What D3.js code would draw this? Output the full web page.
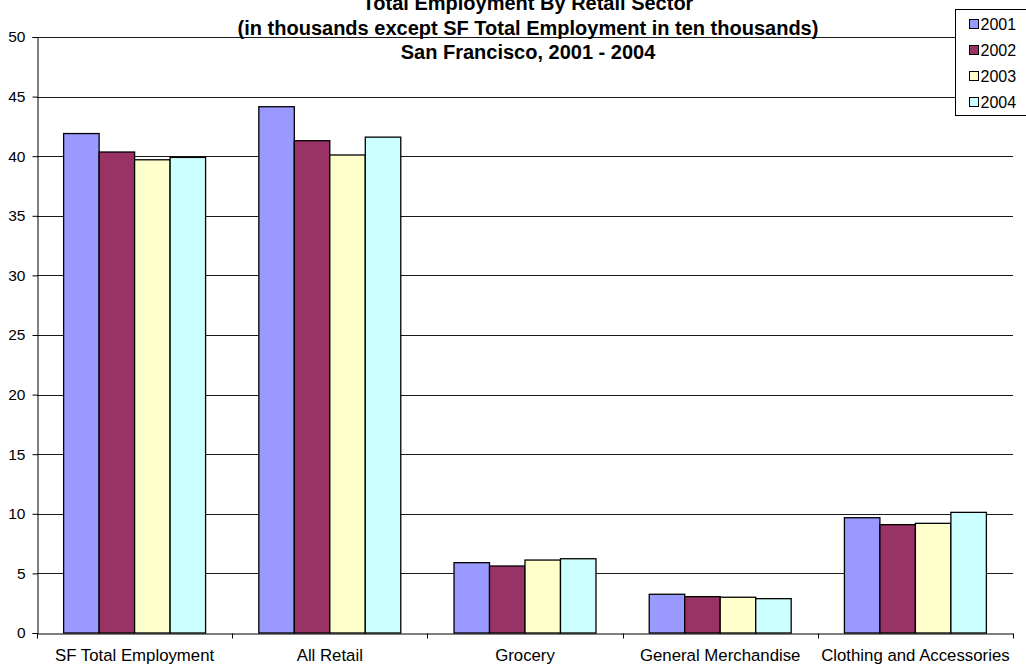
<!DOCTYPE html>
<html>
<head>
<meta charset="utf-8">
<script src="https://cdn.jsdelivr.net/npm/d3@7"></script>
<style>
  body { margin: 0; background: #fff; }
  svg { display: block; font-family: "Liberation Sans", Arial, sans-serif; }
</style>
</head>
<body>
<div class="chart"></div>
<script>
// chart data
var categories = ["SF Total Employment", "All Retail", "Grocery", "General Merchandise", "Clothing and Accessories"];
var years = ["2001", "2002", "2003", "2004"];
var values2001 = [41.9, 44.15, 5.9, 3.25, 9.67];
var values2002 = [40.35, 41.3, 5.62, 3.05, 9.09];
var values2003 = [39.7, 40.1, 6.12, 3.0, 9.2];
var values2004 = [39.9, 41.6, 6.23, 2.88, 10.12];
var yTicks = [0, 5, 10, 15, 20, 25, 30, 35, 40, 45, 50];
var colors = ["#9999FF", "#993366", "#FFFFCC", "#CCFFFF"];
var titleLines = [
  "Total Employment By Retail Sector",
  "(in thousands except SF Total Employment in ten thousands)",
  "San Francisco, 2001 - 2004"
];

var seriesValues = [values2001, values2002, values2003, values2004];

// setup svg dimensions
var svgWidth = 1026;
var svgHeight = 668;

var margin = { top: 37, right: 13, bottom: 35, left: 37 };
var chartWidth = svgWidth - margin.left - margin.right;
var chartHeight = svgHeight - margin.top - margin.bottom;

var svg = d3.select(".chart")
  .append("svg")
  .attr("width", svgWidth)
  .attr("height", svgHeight);

var chartGroup = svg.append("g")
  .attr("transform", `translate(${margin.left}, ${margin.top})`);

// scales
var xScale = d3.scaleBand()
  .domain(categories)
  .range([0, chartWidth])
  .padding(0);

// excel style gap width of 150%
var barWidth = xScale.bandwidth() / 5.5;
var gap = xScale.bandwidth() - barWidth * 4;

var xInner = d3.scaleBand()
  .domain(years)
  .range([gap / 2, xScale.bandwidth() - gap / 2])
  .padding(0);

var yScale = d3.scaleLinear()
  .domain([0, 50])
  .range([chartHeight, 0]);

// gridlines
chartGroup.append("g")
  .selectAll("line")
  .data(yTicks.filter(d => d > 0))
  .enter()
  .append("line")
  .attr("x1", 0)
  .attr("x2", chartWidth)
  .attr("y1", d => Math.round(yScale(d)) + 0.5)
  .attr("y2", d => Math.round(yScale(d)) + 0.5)
  .attr("stroke", "#1a1a1a")
  .attr("stroke-width", 1);

// bars
var groups = chartGroup.append("g")
  .selectAll("g")
  .data(categories)
  .enter()
  .append("g")
  .attr("transform", d => `translate(${xScale(d)}, 0)`);

groups.selectAll("rect")
  .data((d, i) => years.map((y, j) => ({ year: y, value: seriesValues[j][i], idx: j })))
  .enter()
  .append("rect")
  .attr("x", d => xInner(d.year))
  .attr("y", d => yScale(d.value))
  .attr("width", xInner.bandwidth())
  .attr("height", d => chartHeight - yScale(d.value))
  .attr("fill", d => colors[d.idx])
  .attr("stroke", "#000")
  .attr("stroke-width", 1.3);

// y axis
var leftAxis = d3.axisLeft(yScale)
  .tickValues(yTicks)
  .tickSize(5)
  .tickPadding(7);

var yAxis = chartGroup.append("g")
  .attr("transform", "translate(0.5, 0)")
  .call(leftAxis);
yAxis.select(".domain").attr("stroke", "#000");
yAxis.selectAll("text")
  .style("font-size", "15.5px")
  .style("font-family", "'Liberation Sans', Arial, sans-serif")
  .attr("fill", "#000");

// x axis
var bottomAxis = d3.axisBottom(xScale)
  .tickSize(0)
  .tickPadding(16);

var xAxis = chartGroup.append("g")
  .attr("transform", `translate(0, ${chartHeight + 0.5})`)
  .call(bottomAxis);
xAxis.select(".domain").attr("stroke", "#000");
xAxis.selectAll("text")
  .style("font-size", "16.8px")
  .style("font-family", "'Liberation Sans', Arial, sans-serif")
  .attr("fill", "#000");

// category separator ticks
xAxis.append("g")
  .selectAll("line")
  .data(d3.range(categories.length + 1))
  .enter()
  .append("line")
  .attr("x1", d => Math.round(d * xScale.bandwidth()) + 0.5)
  .attr("x2", d => Math.round(d * xScale.bandwidth()) + 0.5)
  .attr("y1", 0)
  .attr("y2", 5)
  .attr("stroke", "#000");

// title
svg.append("g")
  .selectAll("text")
  .data(titleLines)
  .enter()
  .append("text")
  .attr("x", 528)
  .attr("y", (d, i) => 10 + i * 24.5)
  .attr("text-anchor", "middle")
  .style("font-size", "20px")
  .style("font-weight", "bold")
  .text(d => d);

// legend
var legend = svg.append("g")
  .attr("transform", "translate(955.5, 9.5)");

legend.append("rect")
  .attr("width", 80)
  .attr("height", 106)
  .attr("fill", "#fff")
  .attr("stroke", "#000");

var legendItems = legend.selectAll(".item")
  .data(years)
  .enter()
  .append("g")
  .attr("class", "item")
  .attr("transform", (d, i) => `translate(0, ${15 + i * 26})`);

legendItems.append("rect")
  .attr("x", 14)
  .attr("y", -5)
  .attr("width", 9)
  .attr("height", 9)
  .attr("fill", (d, i) => colors[i])
  .attr("stroke", "#000");

legendItems.append("text")
  .attr("x", 25)
  .attr("y", 5.5)
  .style("font-size", "16px")
  .text(d => d);
</script>
</body>
</html>
